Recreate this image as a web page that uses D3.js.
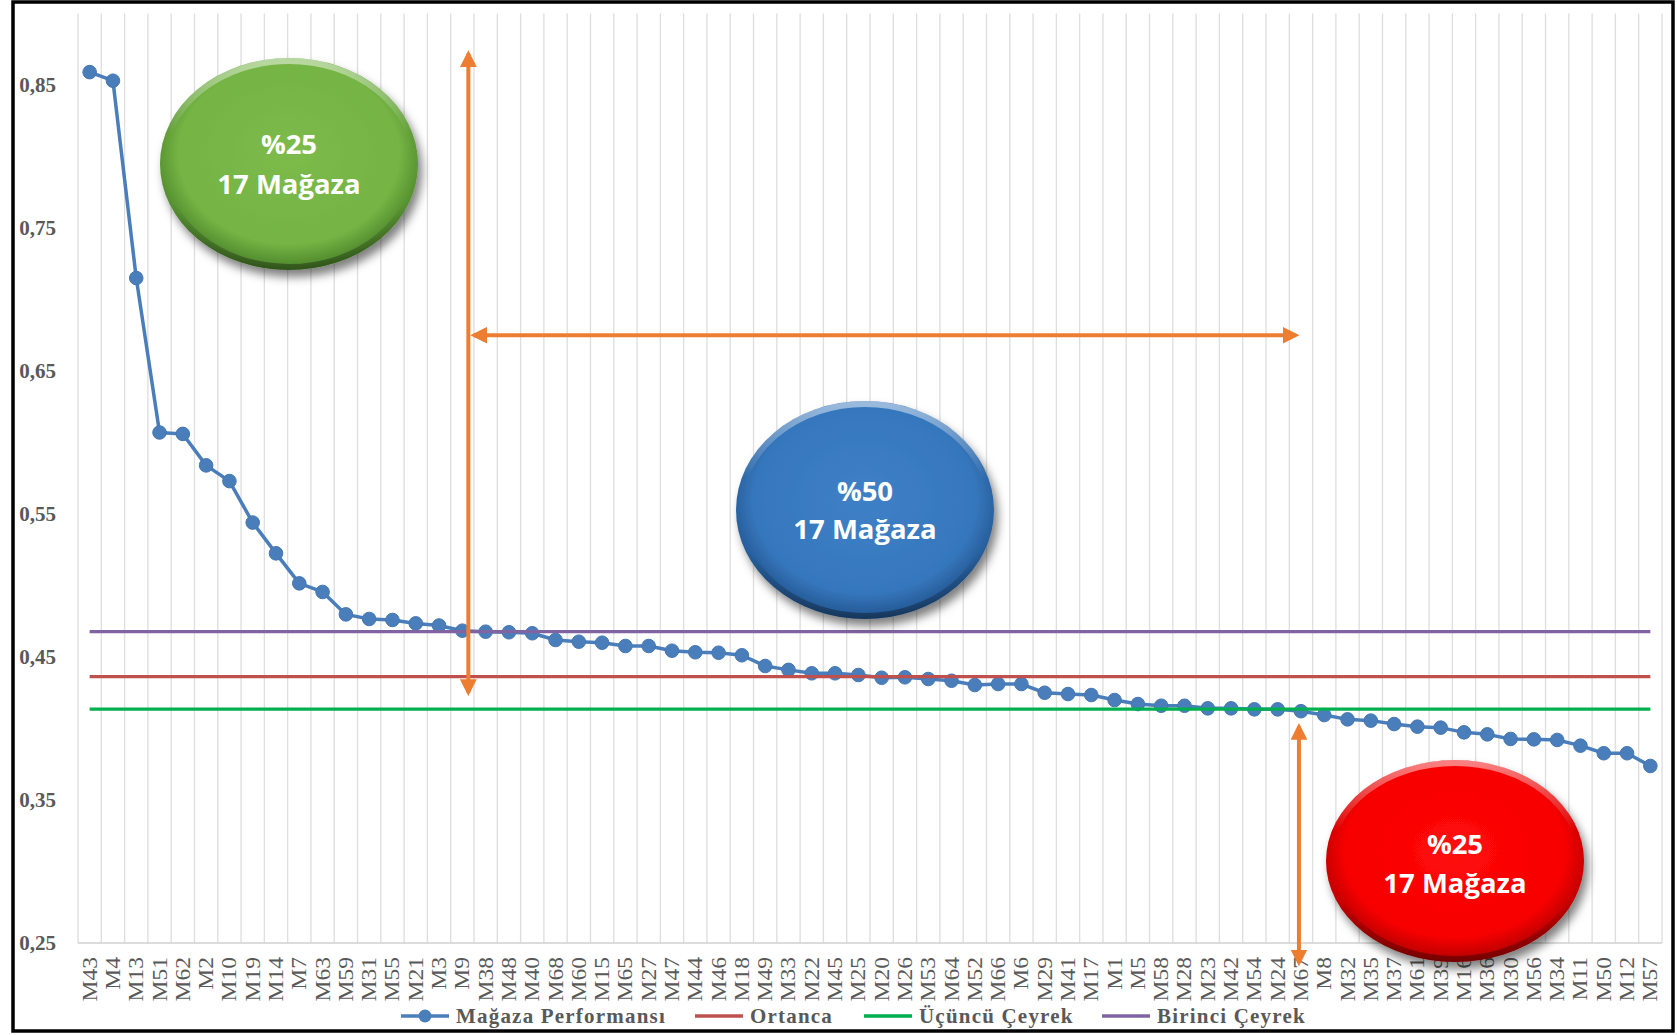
<!DOCTYPE html>
<html>
<head>
<meta charset="utf-8">
<script src="https://cdn.jsdelivr.net/npm/d3@7"></script>
<style>
  html, body { margin: 0; padding: 0; background: #fff; }
  svg { display: block; }
</style>
</head>
<body>
<svg id="chart" width="1677" height="1035"></svg>
<script>
// ---- data ----
const categories = ["M43","M4","M13","M51","M62","M2","M10","M19","M14","M7","M63","M59","M31","M55","M21","M3","M9","M38","M48","M40","M68","M60","M15","M65","M27","M47","M44","M46","M18","M49","M33","M22","M45","M25","M20","M26","M53","M64","M52","M66","M6","M29","M41","M17","M1","M5","M58","M28","M23","M42","M54","M24","M67","M8","M32","M35","M37","M61","M39","M16","M36","M30","M56","M34","M11","M50","M12","M57"];
const performance = [0.859,0.853,0.715,0.607,0.606,0.584,0.573,0.544,0.5225,0.5015,0.4955,0.4798,0.4766,0.4759,0.4735,0.472,0.4684,0.4677,0.4673,0.4666,0.4619,0.4607,0.460,0.4577,0.4577,0.4544,0.4533,0.453,0.4512,0.4437,0.441,0.4386,0.4386,0.4374,0.4355,0.4358,0.4346,0.4334,0.4304,0.4311,0.4311,0.425,0.4241,0.4234,0.4199,0.4171,0.4159,0.4159,0.4141,0.4141,0.4134,0.4134,0.4121,0.4094,0.4064,0.4055,0.4031,0.4013,0.4006,0.3973,0.3959,0.3927,0.3924,0.392,0.388,0.3827,0.3827,0.3738];
const median = 0.4363;          // Ortanca
const thirdQuartile = 0.4136;   // Üçüncü Çeyrek
const firstQuartile = 0.4677;   // Birinci Çeyrek
const yTicks = [0.25,0.35,0.45,0.55,0.65,0.75,0.85];
const seriesNames = ["Mağaza Performansı","Ortanca","Üçüncü Çeyrek","Birinci Çeyrek"];
const bubbleLabels = [["%25","17 Mağaza"],["%50","17 Mağaza"],["%25","17 Mağaza"]];

// ---- layout ----
const svg = d3.select("#chart");
const W = 1677, H = 1035;
const plot = {left: 78, right: 1662, top: 13.5, bottom: 943};

const x = d3.scaleBand().domain(categories).range([plot.left, plot.right]).padding(0);
const bw = x.bandwidth();
const xc = c => x(c) + bw / 2;
const y = d3.scaleLinear().domain([0.25, 0.9]).range([plot.bottom, plot.top]);

const colors = {perf: "#4a7ebb", median: "#c0504d", q3: "#00b050", q1: "#8064a2", text: "#595959", orange: "#ed7d31"};

const defs = svg.append("defs");
defs.append("filter").attr("id", "shadow").attr("x", "-30%").attr("y", "-30%").attr("width", "160%").attr("height", "170%")
  .append("feDropShadow").attr("dx", 4).attr("dy", 7).attr("stdDeviation", 5).attr("flood-color", "#000").attr("flood-opacity", 0.5);

function radial(id, c0, c1, c2) {
  const g = defs.append("radialGradient").attr("id", id).attr("cx", "50%").attr("cy", "45%").attr("r", "55%");
  g.append("stop").attr("offset", "0%").attr("stop-color", c0);
  g.append("stop").attr("offset", "78%").attr("stop-color", c1);
  g.append("stop").attr("offset", "100%").attr("stop-color", c2);
}
radial("gGreen", "#7cbb4b", "#74b444", "#4a8229");
radial("gBlue", "#3e80c6", "#3677bd", "#22558f");
radial("gRed", "#ff0a0a", "#f70000", "#b00000");
const bevel = defs.append("linearGradient").attr("id", "bevel").attr("x1", 0).attr("y1", 0).attr("x2", 0).attr("y2", 1);
bevel.append("stop").attr("offset", "0%").attr("stop-color", "#fff").attr("stop-opacity", 0.5);
bevel.append("stop").attr("offset", "35%").attr("stop-color", "#fff").attr("stop-opacity", 0.0);
bevel.append("stop").attr("offset", "70%").attr("stop-color", "#000").attr("stop-opacity", 0.0);
bevel.append("stop").attr("offset", "100%").attr("stop-color", "#000").attr("stop-opacity", 0.35);

defs.append("marker").attr("id", "arrow").attr("viewBox", "0 0 10 10").attr("refX", 8).attr("refY", 5)
  .attr("markerWidth", 4.2).attr("markerHeight", 4.2).attr("orient", "auto-start-reverse").attr("markerUnits", "strokeWidth")
  .append("path").attr("d", "M0,0 L10,5 L0,10 Z").attr("fill", colors.orange);

// background
svg.append("rect").attr("width", W).attr("height", H).attr("fill", "#fff");

// vertical gridlines at category boundaries
const bounds = categories.map(c => x(c)).concat([plot.right]);
svg.append("g").selectAll("line").data(bounds).join("line")
  .attr("x1", d => d).attr("x2", d => d).attr("y1", plot.top).attr("y2", plot.bottom)
  .attr("stroke", "#dedede").attr("stroke-width", 1.3);

// bottom axis line
svg.append("line").attr("x1", plot.left).attr("x2", plot.right).attr("y1", plot.bottom).attr("y2", plot.bottom)
  .attr("stroke", "#d0d0d0").attr("stroke-width", 1.3);

// y tick labels
svg.append("g").selectAll("text").data(yTicks).join("text")
  .attr("x", 56).attr("y", d => y(d)).attr("dy", "0.35em").attr("text-anchor", "end")
  .attr("font-family", "'Liberation Serif', 'Times New Roman', serif").attr("font-weight", "bold")
  .attr("font-size", 21).attr("fill", colors.text)
  .text(d => d3.format(".2f")(d).replace(".", ","));

// x labels
svg.append("g").selectAll("text").data(categories).join("text")
  .attr("transform", d => `translate(${xc(d) + 7},957) rotate(-90) scale(1.12,1)`)
  .attr("text-anchor", "end")
  .attr("font-family", "'Liberation Serif', 'Times New Roman', serif")
  .attr("font-size", 21).attr("fill", colors.text)
  .text(d => d);

// performance series
const line = d3.line().x((d, i) => xc(categories[i])).y(d => y(d));
svg.append("path").datum(performance).attr("d", line).attr("fill", "none")
  .attr("stroke", colors.perf).attr("stroke-width", 3.5).attr("stroke-linejoin", "round");
svg.append("g").selectAll("circle").data(performance).join("circle")
  .attr("cx", (d, i) => xc(categories[i])).attr("cy", d => y(d)).attr("r", 6.8)
  .attr("fill", colors.perf).attr("stroke", "#4577b3").attr("stroke-width", 1);

// reference lines
const refs = [
  {v: median, c: colors.median},
  {v: thirdQuartile, c: colors.q3},
  {v: firstQuartile, c: colors.q1}
];
refs.forEach(r => {
  svg.append("line")
    .attr("x1", xc(categories[0])).attr("x2", xc(categories[categories.length - 1]))
    .attr("y1", y(r.v)).attr("y2", y(r.v))
    .attr("stroke", r.c).attr("stroke-width", 3.2);
});

// legend
const legendItems = [
  {name: seriesNames[0], c: colors.perf, x: 401, marker: true},
  {name: seriesNames[1], c: colors.median, x: 695},
  {name: seriesNames[2], c: colors.q3, x: 864},
  {name: seriesNames[3], c: colors.q1, x: 1102}
];
const lg = svg.append("g");
legendItems.forEach(it => {
  lg.append("line").attr("x1", it.x).attr("x2", it.x + 48).attr("y1", 1016).attr("y2", 1016)
    .attr("stroke", it.c).attr("stroke-width", 3.5);
  if (it.marker) lg.append("circle").attr("cx", it.x + 24).attr("cy", 1016).attr("r", 6.5).attr("fill", it.c);
  lg.append("text").attr("x", it.x + 55).attr("y", 1023)
    .attr("font-family", "'Liberation Serif', 'Times New Roman', serif").attr("font-weight", "bold")
    .attr("font-size", 21).attr("letter-spacing", 1.2).attr("fill", colors.text)
    .text(it.name);
});

// arrows (annotations anchored to scales)
const arrows = [
  {x1: xc("M9") + 6, y1: 0.872, x2: xc("M9") + 6, y2: 0.425},
  {x1: xc("M38") - 12, y1: 0.675, x2: xc("M67") - 5, y2: 0.675},
  {x1: xc("M67") - 2, y1: 0.4015, x2: xc("M67") - 2, y2: 0.236}
];
svg.append("g").selectAll("line").data(arrows).join("line")
  .attr("x1", d => d.x1).attr("x2", d => d.x2).attr("y1", d => y(d.y1)).attr("y2", d => y(d.y2))
  .attr("stroke", colors.orange).attr("stroke-width", 4)
  .attr("marker-start", "url(#arrow)").attr("marker-end", "url(#arrow)");

// bubbles
const bubbles = [
  {cx: 289, cy: 164, rx: 129, ry: 106, fill: "url(#gGreen)", lab: bubbleLabels[0], t1: 144, t2: 184},
  {cx: 865, cy: 510, rx: 129, ry: 109, fill: "url(#gBlue)", lab: bubbleLabels[1], t1: 491, t2: 529},
  {cx: 1455, cy: 861, rx: 129, ry: 101, fill: "url(#gRed)", lab: bubbleLabels[2], t1: 844, t2: 883}
];
bubbles.forEach(b => {
  const g = svg.append("g");
  g.append("ellipse").attr("cx", b.cx).attr("cy", b.cy).attr("rx", b.rx).attr("ry", b.ry)
    .attr("fill", b.fill).attr("filter", "url(#shadow)");
  g.append("ellipse").attr("cx", b.cx).attr("cy", b.cy).attr("rx", b.rx - 3).attr("ry", b.ry - 3)
    .attr("fill", "none").attr("stroke", "url(#bevel)").attr("stroke-width", 6);
  [[b.lab[0], b.t1], [b.lab[1], b.t2]].forEach(([t, ty]) => {
    g.append("text").attr("x", b.cx).attr("y", ty).attr("dy", "0.35em").attr("text-anchor", "middle")
      .attr("font-family", "'Open Sans', 'Noto Sans', sans-serif").attr("font-weight", "bold")
      .attr("font-size", 27.5).attr("fill", "#fff").text(t);
  });
});

// outer frame
svg.append("rect").attr("x", 13).attr("y", 2).attr("width", 1660).attr("height", 1029)
  .attr("fill", "none").attr("stroke", "#000").attr("stroke-width", 3.5);
</script>
</body>
</html>
